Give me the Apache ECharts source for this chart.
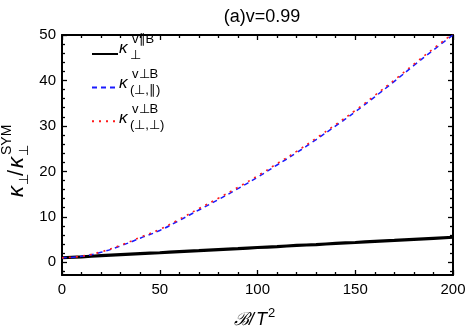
<!DOCTYPE html>
<html>
<head>
<meta charset="utf-8">
<script src="https://cdn.jsdelivr.net/npm/echarts@6/dist/echarts.min.js"></script>
<style>html,body{margin:0;padding:0;background:#fff}#c{width:468px;height:331px}</style>
</head>
<body>
<div id="c"></div>
<script>
const xValues = [0,10,20,30,40,50,60,70,80,90,100,110,120,130,140,150,160,170,180,190,200];
const kParallel = [1.0,1.2,1.45,1.7,1.9,2.1,2.35,2.55,2.8,3.0,3.25,3.45,3.7,3.9,4.15,4.35,4.6,4.8,5.05,5.25,5.5];
const kPerpPar = [1.0,1.3,2.2,3.6,5.3,7.0,9.2,11.5,13.8,16.2,18.7,21.4,24.1,27.0,30.0,33.1,36.4,39.8,43.3,46.7,50.0];
const kPerpPerp = [1.0,1.35,2.3,3.75,5.5,7.25,9.45,11.8,14.1,16.5,19.0,21.7,24.4,27.3,30.3,33.4,36.7,40.1,43.6,47.0,50.3];
const xTicks = [0,50,100,150,200];
const yTicks = [0,10,20,30,40,50];
const yMinorTicks = [-2,2,4,6,8,12,14,16,18,22,24,26,28,32,34,36,38,42,44,46,48];
const seriesNames = ['par','perpPar','perpPerp'];
const titleText = '(a)v=0.99';

const FONT = '"Liberation Sans", Arial, sans-serif';
const pairs = ys => xValues.map((x,i)=>[x, ys[i]]);
const Y_MIN = -2.8, Y_MAX = 50;

function yAxisDef(position, values, len, showLine, showLabel){
  return {
    type:'value', position, min:Y_MIN, max:Y_MAX,
    axisLine:{show:showLine, onZero:false, lineStyle:{color:'#000', width:2}},
    axisTick:{show:true, inside:true, length:len, customValues:values, lineStyle:{color:'#000', width:1.3}},
    axisLabel:{show:showLabel, customValues:values, color:'#000', fontSize:15, fontFamily:FONT, margin:6},
    splitLine:{show:false}
  };
}
function xAxisDef(position, showLabel){
  return {
    type:'value', position, min:0, max:200, interval:50,
    axisLine:{show:true, onZero:false, lineStyle:{color:'#000', width:2}},
    axisTick:{show:true, inside:true, length:5, lineStyle:{color:'#000', width:1.3}},
    minorTick:{show:true, splitNumber:5, length:3, lineStyle:{color:'#000', width:1.3}},
    axisLabel:{show:showLabel, color:'#000', fontSize:15, fontFamily:FONT, margin:7},
    splitLine:{show:false}, minorSplitLine:{show:false}
  };
}

const chart = echarts.init(document.getElementById('c'), null, {renderer:'canvas'});

function legendLabel(y, sup, sub){
  return {
    type:'group', left:119, top:y-16,
    children:[
      {type:'text', x:0, y:16, style:{text:'κ', font:'italic 17px '+FONT, fill:'#000', textVerticalAlign:'middle'}},
      {type:'text', x:13, y:7, style:{text:sup, font:'13px '+FONT, fill:'#000', textVerticalAlign:'middle'}},
      {type:'text', x:11, y:23, style:{text:sub, font:'13px '+FONT, fill:'#000', textVerticalAlign:'middle'}}
    ]
  };
}

chart.setOption({
  animation:false,
  title:{text:titleText, left:257, top:3, textAlign:'center',
    textStyle:{fontSize:18, fontWeight:'normal', color:'#000', fontFamily:FONT}},
  grid:{left:62, right:15, top:35, bottom:56, outerBoundsMode:'none'},
  legend:{orient:'vertical', left:86, top:42, itemGap:21, itemWidth:26, itemHeight:14,
    data:seriesNames, formatter:()=>'', textStyle:{fontSize:1},
    itemStyle:{color:'rgba(0,0,0,0)', borderWidth:0, opacity:0}},
  xAxis:[xAxisDef('bottom', true), xAxisDef('top', false)],
  yAxis:[
    yAxisDef('left', yTicks, 5, true, true),
    yAxisDef('left', yMinorTicks, 3, false, false),
    yAxisDef('right', yTicks, 5, true, false),
    yAxisDef('right', yMinorTicks, 3, false, false)
  ],
  series:[
    {name:seriesNames[0], type:'line', data:pairs(kParallel), showSymbol:false, symbol:'none', smooth:true,
      lineStyle:{color:'#000', width:3.2}, itemStyle:{color:'#000'}, z:3},
    {name:seriesNames[1], type:'line', data:pairs(kPerpPar), showSymbol:false, symbol:'none', smooth:true,
      lineStyle:{color:'#1a1aff', width:1.5, type:[5,4]}, itemStyle:{color:'#1a1aff'}, z:4},
    {name:seriesNames[2], type:'line', data:pairs(kPerpPerp), showSymbol:false, symbol:'none', smooth:true,
      lineStyle:{color:'#ff1a1a', width:1.6, type:[2,5]}, itemStyle:{color:'#ff1a1a'}, z:5}
  ],
  graphic:[
    legendLabel(49, 'v∥B', '⊥'),
    legendLabel(84, 'v⊥B', '(⊥,∥)'),
    legendLabel(119, 'v⊥B', '(⊥,⊥)'),
    {type:'group', x:17, y:197, rotation:Math.PI/2,
      children:[
        {type:'text', x:0, y:0, style:{text:'κ', font:'italic 22px '+FONT, fill:'#000', textVerticalAlign:'middle'}},
        {type:'text', x:12, y:7, style:{text:'⊥', font:'13px '+FONT, fill:'#000', textVerticalAlign:'middle'}},
        {type:'text', x:21, y:0, style:{text:'/', font:'22px '+FONT, fill:'#000', textVerticalAlign:'middle'}},
        {type:'text', x:29, y:0, style:{text:'κ', font:'italic 22px '+FONT, fill:'#000', textVerticalAlign:'middle'}},
        {type:'text', x:41, y:7, style:{text:'⊥', font:'13px '+FONT, fill:'#000', textVerticalAlign:'middle'}},
        {type:'text', x:42, y:-10, style:{text:'SYM', font:'14px '+FONT, fill:'#000', textVerticalAlign:'middle'}}
      ]},
    {type:'group', x:234, y:320,
      children:[
        {type:'text', x:0, y:0, style:{text:'ℬ/', font:'italic 18px '+FONT, fill:'#000', textVerticalAlign:'middle'}},
        {type:'text', x:22, y:0, style:{text:'T', font:'italic 18px '+FONT, fill:'#000', textVerticalAlign:'middle'}},
        {type:'text', x:34, y:-7, style:{text:'2', font:'13px '+FONT, fill:'#000', textVerticalAlign:'middle'}}
      ]}
  ]
});
</script>
</body>
</html>
